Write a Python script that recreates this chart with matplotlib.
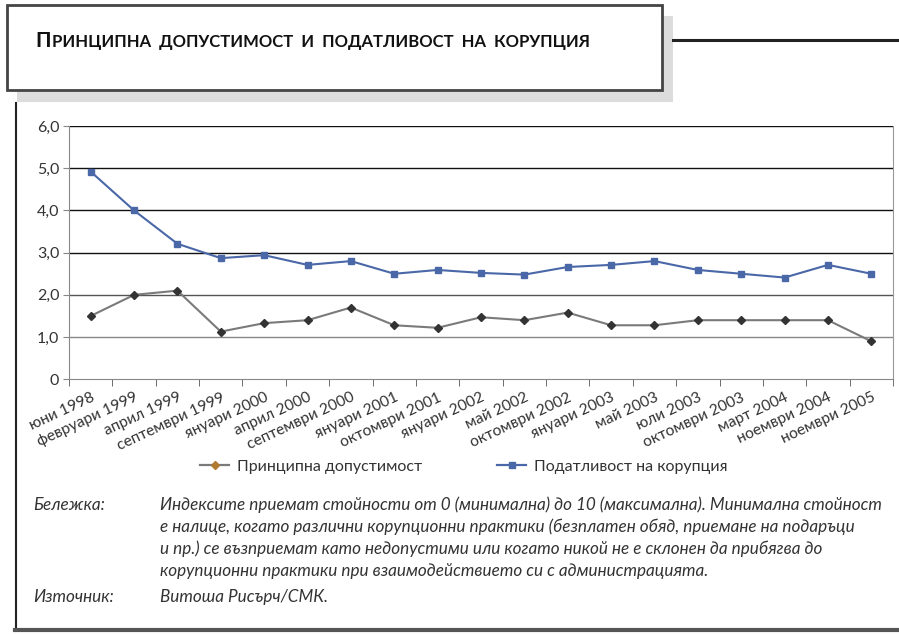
import numpy as np
import matplotlib.pyplot as plt
from matplotlib.lines import Line2D
from matplotlib.patches import Rectangle

# Chart data
periods = ['юни 1998', 'февруари 1999', 'април 1999', 'септември 1999',
           'януари 2000', 'април 2000', 'септември 2000', 'януари 2001',
           'октомври 2001', 'януари 2002', 'май 2002', 'октомври 2002',
           'януари 2003', 'май 2003', 'юли 2003', 'октомври 2003',
           'март 2004', 'ноември 2004', 'ноември 2005']
tolerance = [1.5, 2.0, 2.1, 1.13, 1.33, 1.4, 1.7, 1.28, 1.22, 1.47,
             1.4, 1.58, 1.28, 1.28, 1.4, 1.4, 1.4, 1.4, 0.9]
susceptibility = [4.92, 4.0, 3.21, 2.87, 2.94, 2.71, 2.8, 2.5, 2.59, 2.52,
                  2.48, 2.66, 2.71, 2.8, 2.59, 2.5, 2.41, 2.71, 2.5]
yticks = [0, 1, 2, 3, 4, 5, 6]
ytick_labels = ['0', '1,0', '2,0', '3,0', '4,0', '5,0', '6,0']

W, H = 899, 634
fig = plt.figure(figsize=(W / 100, H / 100), dpi=100)
plt.rcParams['font.family'] = ['Lato', 'DejaVu Sans']

def fx(x):
    return x / W

def fy(y):
    return 1 - y / H

# title box with shadow
fig.add_artist(Rectangle((fx(17), fy(102)), fx(673 - 17), (102 - 16) / H,
                         transform=fig.transFigure, facecolor='#dcdcdc', edgecolor='none'))
fig.add_artist(Rectangle((fx(7), fy(90)), fx(662 - 7), (90 - 5) / H,
                         transform=fig.transFigure, facecolor='white', edgecolor='#444444', lw=2))
fig.add_artist(Line2D([fx(673), fx(899)], [fy(40), fy(40)], transform=fig.transFigure,
                      color='#222222', lw=2.2))
fig.add_artist(Line2D([fx(16), fx(16)], [fy(103), fy(630)], transform=fig.transFigure,
                      color='#222222', lw=1.5))
fig.add_artist(Line2D([fx(15), fx(899)], [fy(630), fy(630)], transform=fig.transFigure,
                      color='#555555', lw=3))

# title in small caps: big first letter, then the rest placed right after it
renderer = fig.canvas.get_renderer()
t1 = fig.text(fx(35), fy(47), 'П', fontsize=15, fontweight='bold', color='#111111', va='baseline')
bb = t1.get_window_extent(renderer)
fig.text(fx(bb.x1 + 1), fy(47), 'РИНЦИПНА  ДОПУСТИМОСТ  И  ПОДАТЛИВОСТ  НА  КОРУПЦИЯ',
         fontsize=12, fontweight='bold', color='#111111', va='baseline')

# plot area
ax = fig.add_axes([fx(69), fy(379.3), fx(893 - 69), (379.3 - 126) / H])
x = np.arange(len(periods))
ax.plot(x, susceptibility, color='#4a67a8', lw=1.5, marker='s', ms=5, zorder=3)
ax.plot(x, tolerance, color='#7a7a7a', lw=1.5, marker='D', ms=4.5,
        markerfacecolor='#333333', markeredgecolor='#333333', zorder=3)

ax.set_xlim(-0.5, len(periods) - 0.5)
ax.set_ylim(0, 6)
grid_colors = {1: '#888888', 2: '#555555', 3: '#111111', 4: '#111111', 5: '#111111', 6: '#111111'}
for v, c in grid_colors.items():
    ax.axhline(v, color=c, lw=1.0, zorder=1)

ax.set_yticks(yticks)
ax.set_yticklabels(ytick_labels, fontsize=11.5, color='#333333')
ax.tick_params(axis='y', length=4, color='#888888', pad=3)
ax.set_xticks(x)
ax.set_xticklabels(periods, rotation=25, ha='right', va='top', rotation_mode='anchor',
                   fontsize=11.2, color='#333333')
ax.tick_params(axis='x', length=0, pad=8)
ax.set_xticks(np.arange(-0.5, len(periods), 1), minor=True)
ax.tick_params(axis='x', which='minor', length=5, color='#555555')
ax.spines['top'].set_visible(False)
ax.spines['left'].set_color('#888888')
ax.spines['right'].set_color('#999999')
ax.spines['bottom'].set_color('#888888')

# legend
h1 = Line2D([], [], color='#7a7a7a', lw=1.6, marker='D', ms=4,
            markerfacecolor='#b07a30', markeredgecolor='#b07a30')
h2 = Line2D([], [], color='#4a67a8', lw=1.6, marker='s', ms=4.5)
fig.legend([h1, h2], ['Принципна допустимост', 'Податливост на корупция'],
           loc='center', bbox_to_anchor=(fx(464), fy(467)), ncol=2, frameon=False,
           fontsize=11.5, handlelength=1.8, handletextpad=0.5, columnspacing=4.7,
           labelcolor='#333333')

# notes
note_lines = ['Индексите приемат стойности от 0 (минимална) до 10 (максимална). Минимална стойност',
              'е налице, когато различни корупционни практики (безплатен обяд, приемане на подаръци',
              'и пр.) се възприемат като недопустими или когато никой не е склонен да прибягва до',
              'корупционни практики при взаимодействието си с администрацията.']
fs = 12.3
fig.text(fx(33), fy(510), 'Бележка:', fontsize=fs, style='italic', color='#333333', va='baseline')
for i, line in enumerate(note_lines):
    fig.text(fx(160), fy(510 + 22 * i), line, fontsize=fs, style='italic',
             color='#333333', va='baseline')
fig.text(fx(33), fy(602), 'Източник:', fontsize=fs, style='italic', color='#333333', va='baseline')
fig.text(fx(160), fy(602), 'Витоша Рисърч/СМК.', fontsize=fs, style='italic',
         color='#333333', va='baseline')

fig.savefig('out.png', dpi=100)
